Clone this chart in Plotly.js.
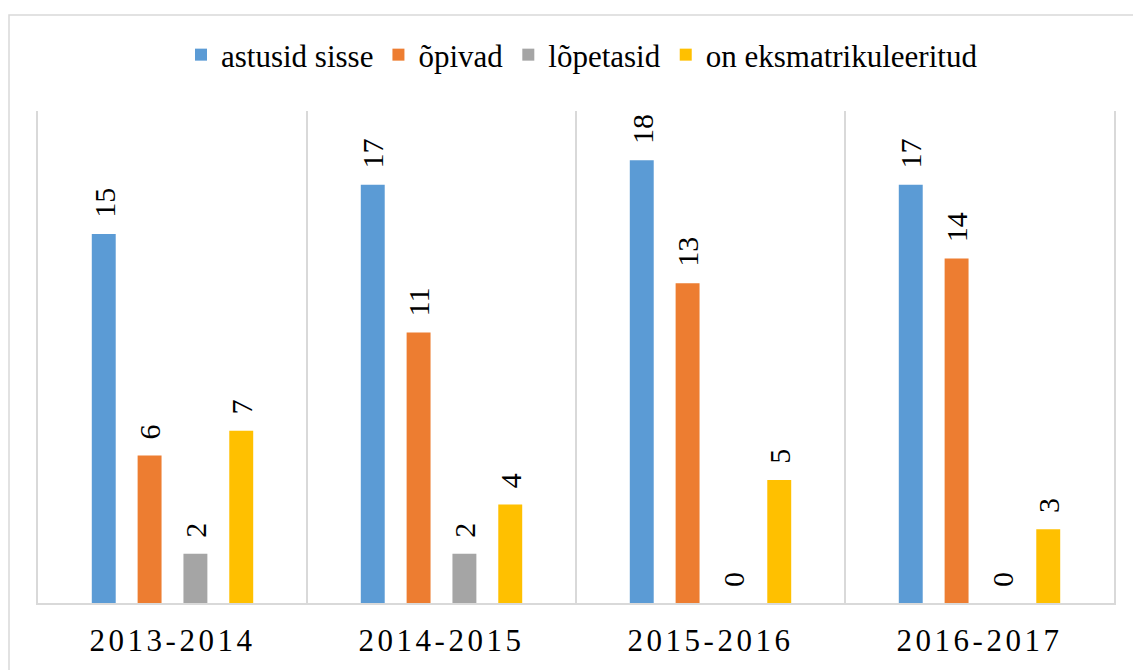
<!DOCTYPE html>
<html>
<head>
<meta charset="utf-8">
<script src="https://cdn.plot.ly/plotly-3.0.1.min.js"></script>
<style>
  html, body { margin: 0; padding: 0; background: #fff; }
  #chart { width: 1133px; height: 670px; }
  .xtick text { letter-spacing: 3.5px; }
</style>
</head>
<body>
<div id="chart"></div>
<script>
const categories = ["2013-2014", "2014-2015", "2015-2016", "2016-2017"];
const seriesNames = ["astusid sisse", "õpivad", "lõpetasid", "on eksmatrikuleeritud"];
const astusidSisse = [15, 17, 18, 17];
const opivad = [6, 11, 13, 14];
const lopetasid = [2, 2, 0, 0];
const eksmatrikuleeritud = [7, 4, 5, 3];
const seriesValues = [astusidSisse, opivad, lopetasid, eksmatrikuleeritud];
const colors = ["#5B9BD5", "#ED7D31", "#A5A5A5", "#FFC000"];

const FONT = "Times New Roman, Tinos, Liberation Serif, DejaVu Serif, serif";

const traces = seriesValues.map((vals, i) => ({
  type: "bar",
  name: seriesNames[i],
  x: categories,
  y: vals,
  marker: { color: colors[i] },
  hoverinfo: "skip"
}));

const slotPx = 45.8;
const annotations = [];
seriesValues.forEach((vals, i) => {
  vals.forEach((v, j) => {
    annotations.push({
      x: categories[j], y: v, xref: "x", yref: "y",
      text: String(v), showarrow: false,
      textangle: -90,
      xanchor: "center", yanchor: "bottom",
      xshift: (i - 1.5) * slotPx,
      yshift: 14,
      font: { family: FONT, size: 30, color: "#000" }
    });
  });
});

const L = 38, R = 19, T = 111, B = 67;
const W = 1133, H = 670;
const pw = W - L - R, ph = H - T - B;

const layout = {
  width: W, height: H,
  margin: { l: L, r: R, t: T, b: B, pad: 0 },
  paper_bgcolor: "#fff",
  plot_bgcolor: "#fff",
  font: { family: FONT, color: "#000" },
  barmode: "group",
  bargap: 0.3185,
  bargroupgap: 0.478,
  showlegend: true,
  legend: {
    orientation: "h",
    x: (582 - L) / pw, xanchor: "center",
    y: (H - B - 55) / ph, yanchor: "middle",
    font: { family: FONT, size: 31, color: "#000" },
    itemclick: false, itemdoubleclick: false,
    traceorder: "normal"
  },
  xaxis: {
    type: "category",
    range: [-0.5, 3.5],
    tickson: "boundaries",
    ticks: "",
    showgrid: true,
    gridcolor: "#d9d9d9",
    gridwidth: 2,
    showline: true,
    linecolor: "#d9d9d9",
    linewidth: 1.5,
    ticklabelstandoff: 9,
    tickfont: { family: FONT, size: 31, color: "#000" },
    fixedrange: true
  },
  yaxis: {
    range: [0, 20],
    showticklabels: false,
    showgrid: false,
    zeroline: false,
    showline: true,
    mirror: true,
    linecolor: "#d9d9d9",
    linewidth: 2,
    ticks: "",
    fixedrange: true
  },
  annotations: annotations,
  shapes: [{
    type: "rect", xref: "paper", yref: "paper",
    x0: (9 - L) / pw, x1: (W + 4 - L) / pw,
    y0: (H - B - (H + 4)) / ph, y1: (H - B - 15) / ph,
    line: { color: "#d9d9d9", width: 1.5 },
    fillcolor: "rgba(0,0,0,0)",
    layer: "below"
  }]
};

Plotly.newPlot("chart", traces, layout, { displayModeBar: false, staticPlot: true });
</script>
</body>
</html>
